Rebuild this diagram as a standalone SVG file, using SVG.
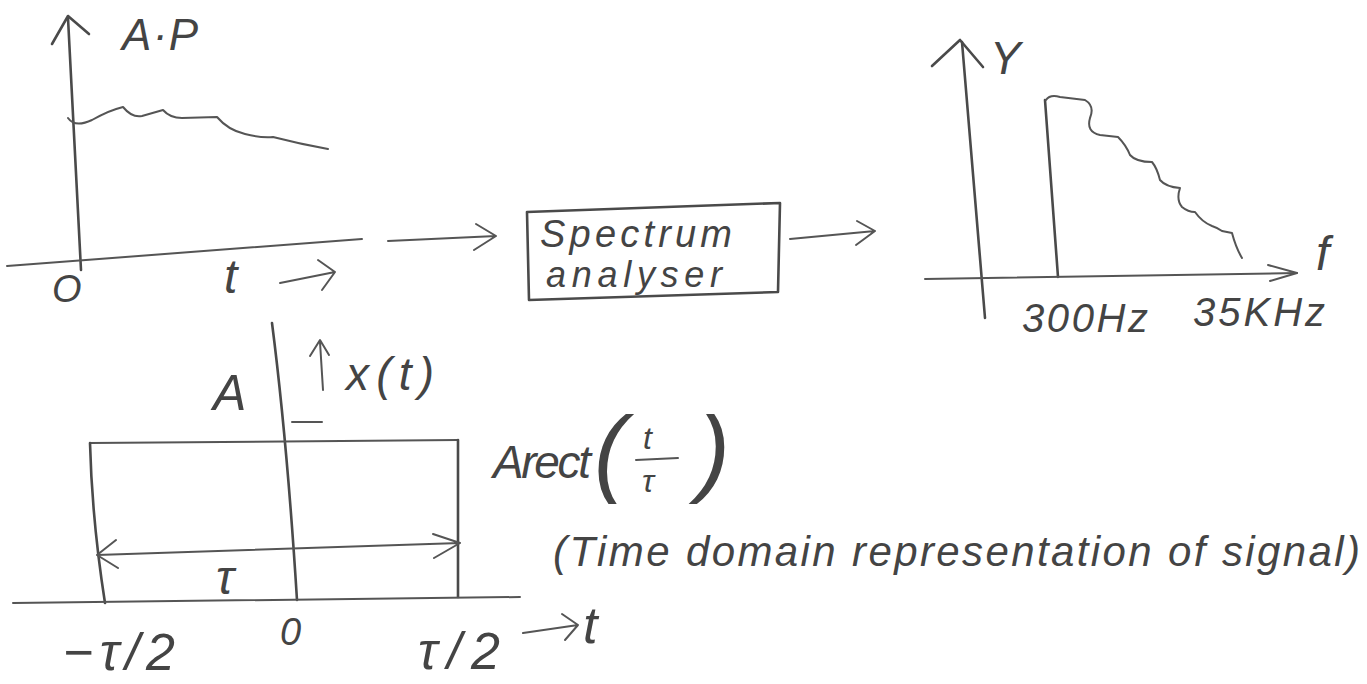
<svg xmlns="http://www.w3.org/2000/svg" width="1367" height="684" viewBox="0 0 1367 684">
<style>
.ln{fill:none;stroke:#4a4a4a;stroke-width:2.6;stroke-linecap:round;stroke-linejoin:round}
.th{fill:none;stroke:#555;stroke-width:2;stroke-linecap:round;stroke-linejoin:round}
.tx{font-family:"Liberation Sans",Arial,sans-serif;font-style:italic;fill:#444}
</style>
<rect width="1367" height="684" fill="#fff"/>
<g id="graph-time">
<path class="ln" d="M81,270 L68,18"/>
<path class="ln" d="M52,44 L68,16 L89,34"/>
<path class="th" d="M7,266 L362,239"/>
<path class="th" d="M68,118 Q75,128 92,120 Q110,110 123,107 Q132,118 142,116 L163,110 Q170,118 182,118 L217,117 Q228,130 245,134 Q260,138 273,137 Q300,144 328,149"/>
<text class="tx" x="122" y="50" font-size="44" textLength="76">A·P</text>
<text class="tx" x="52" y="302" font-size="38">O</text>
<text class="tx" x="224" y="293" font-size="48">t</text>
<path class="th" d="M280,283 L335,272 M318,260 L335,272 L322,290"/>
</g>
<g id="analyser">
<path class="ln" d="M527,212 L780,203 L778,292 L529,300 Z"/>
<text class="tx" x="540" y="247" font-size="38" textLength="192">Spectrum</text>
<text class="tx" x="546" y="287" font-size="36" textLength="176">analyser</text>
</g>
<g id="graph-spectrum">
<path class="ln" d="M962,42 L985,318"/>
<path class="ln" d="M932,66 L960,40 L983,67"/>
<text class="tx" x="990" y="74" font-size="46">Y</text>
<path class="ln" d="M1045,100 L1058,277"/>
<path class="th" d="M1046,100 Q1050,94 1060,97 L1085,100 Q1095,106 1090,118 Q1086,132 1100,135 L1118,137 Q1126,145 1130,155 Q1136,162 1152,162 Q1157,168 1160,180 Q1166,187 1180,188 Q1176,200 1182,207 Q1188,212 1195,212 Q1202,222 1212,226 Q1218,228 1222,231 L1232,233 Q1236,248 1242,258"/>
<path class="th" d="M925,279 L1297,273"/>
<path class="th" d="M1268,265 L1297,273 L1270,281"/>
<text class="tx" x="1316" y="270" font-size="48">f</text>
<text class="tx" x="1022" y="332" font-size="40" textLength="126">300Hz</text>
<text class="tx" x="1193" y="326" font-size="40" textLength="132">35KHz</text>
</g>
<g id="graph-rect">
<path class="ln" d="M272,323 Q287,440 297,600"/>
<path class="th" d="M90,443 L458,440"/>
<path class="ln" d="M90,443 Q92,520 105,603"/>
<path class="ln" d="M458,440 L458,597"/>
<path class="th" d="M13,603 L520,597"/>
<path class="th" d="M97,555 L460,543 M116,540 L97,555 L118,568 M433,534 L460,543 L434,558"/>
<text class="tx" x="213" y="410" font-size="50">A</text>
<path class="th" d="M323,390 L320,342 M310,356 L320,340 L329,355"/>
<text class="tx" x="346" y="390" font-size="46" textLength="88">x(t)</text>
<path class="th" d="M292,422 L322,422"/>
<text class="tx" x="216" y="594" font-size="48">τ</text>
<text class="tx" x="63" y="670" font-size="52" textLength="112">−τ/2</text>
<text class="tx" x="280" y="645" font-size="38">0</text>
<text class="tx" x="418" y="669" font-size="52" textLength="82">τ/2</text>
<path class="th" d="M523,633 L578,625 M562,614 L578,625 L565,640"/>
<text class="tx" x="583" y="643" font-size="52">t</text>
</g>
<g id="labels">
<text class="tx" x="493" y="478" font-size="46" textLength="98">Arect</text>
<text class="tx" x="594" y="484" font-size="96">(</text>
<text class="tx" x="643" y="449" font-size="32">t</text>
<path class="th" d="M636,460 L678,458"/>
<text class="tx" x="642" y="492" font-size="32">τ</text>
<text class="tx" x="698" y="484" font-size="96">)</text>
<text class="tx" x="553" y="566" font-size="42" textLength="807">(Time domain representation of signal)</text>
</g>
<g id="connectors">
<path class="th" d="M388,241 L496,236 M476,224 L496,236 L474,250"/>
<path class="th" d="M790,239 L875,231 M857,221 L875,231 L856,245"/>
</g>
</svg>
